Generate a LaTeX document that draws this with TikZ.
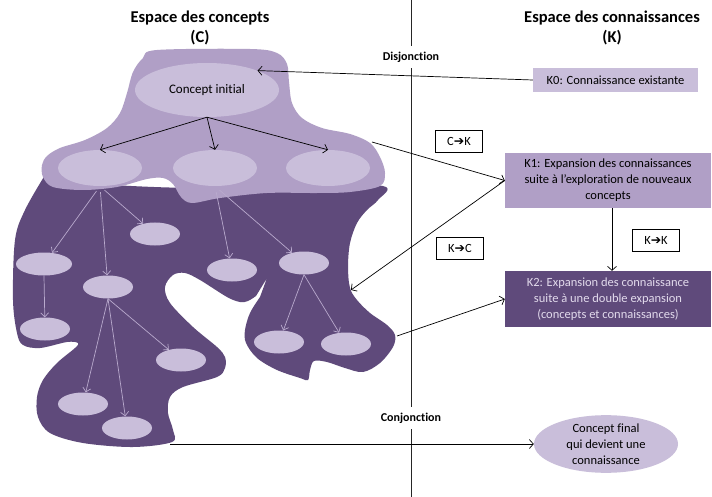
\documentclass[tikz,border=0pt]{standalone}
\usepackage{fontspec}
\setmainfont{Carlito}[Ligatures=NoCommon]
\newfontfamily\symfont{DejaVu Sans}
\usetikzlibrary{shapes.geometric,arrows.meta}
\definecolor{darkp}{HTML}{5F4A7B}
\definecolor{midp}{HTML}{B09FC6}
\definecolor{lightp}{HTML}{C9BEDA}
\definecolor{arrp}{HTML}{B9AACD}
\definecolor{ktext}{HTML}{E2DAEC}
\tikzset{
 conc/.style={ellipse, fill=lightp, inner sep=0pt, minimum width=50pt, minimum height=23pt},
 midconc/.style={ellipse, fill=lightp, inner sep=0pt, minimum width=84pt, minimum height=36pt},
 bigconc/.style={ellipse, fill=lightp, inner sep=0pt, minimum width=144pt, minimum height=54pt, align=center, font=\fontsize{13}{16}\selectfont},
 blk/.style={draw=black, line width=0.7pt, -{Straight Barb[length=4pt,width=9pt]}},
 lgt/.style={draw=arrp, line width=0.7pt, -{Straight Barb[length=4pt,width=8pt]}},
 tagbox/.style={draw=black, line width=0.8pt, fill=white, minimum width=47pt, minimum height=22pt, inner sep=0pt, font=\fontsize{12.5}{14}\selectfont},
 kbox/.style={rectangle, inner sep=0pt, align=center, font=\fontsize{12.5}{16}\selectfont},
 ttl/.style={font=\bfseries\fontsize{16.5}{20}\selectfont, align=center},
 sepl/.style={font=\bfseries\fontsize{12}{14}\selectfont, inner sep=6pt},
 vline/.style={draw=black!85, line width=0.9pt},
}
\newcommand{\harr}{{\symfont\bfseries\char"2794}}
\begin{document}
\begin{tikzpicture}[x=1pt,y=-1pt]
\useasboundingbox[fill=white] (0,0) rectangle (712,497);
% titles
\node[ttl] (tc) at (200,28) {Espace des concepts\\(C)};
\node[ttl] (tk) at (612,28) {Espace des connaissances\\(K)};
% separator
\coordinate (vtop) at (411,0);
\coordinate (vbot) at (411,497);
\node[sepl] (dis) at (411,57) {Disjonction};
\node[sepl] (conj) at (411,418) {Conjonction};
\draw[vline] (vtop) -- (dis);
\draw[vline] (dis) -- (conj);
\draw[vline] (conj) -- (vbot);
% dark blob
\fill[darkp] plot[smooth, tension=0.55] coordinates {(45,175) (100,184) (200,188) (300,184) (383,186) (378,200) (367,210) (357,223) (350,243) (348,267) (350,288) (357,300) (370,313) (387,325) (395,335) (393,347) (380,363) (363,372) (345,368) (327,362) (314,361) (310,370) (308,380) (300,378) (277,370) (257,358) (246,343) (245,330) (250,313) (260,297)}
 -- (267,278) -- plot[smooth, tension=0.55] coordinates {(256,296) (248,301) (240,302) (227,297) (200,280) (185,273) (173,275) (165,287) (170,303) (193,327) (217,347) (225,357) (225,368) (217,377) (183,387) (170,397) (168,413) (173,430) (172,442) (133,447) (83,443) (50,433) (38,417) (37,397) (43,380) (57,363) (75,348) (78,343) (67,342) (40,348) (23,345) (17,333) (13,300) (15,240) (25,210) (45,175)} -- cycle;
% light blob
\fill[midp] plot[smooth cycle, tension=0.55] coordinates {(157,50) (250,49) (277,53) (287,64) (289,82) (292,103) (302,118) (322,128) (350,134) (370,143) (380,157) (385,173) (380,186) (350,192) (317,193) (267,193) (220,198) (192,203) (181,197) (173,184) (163,178) (147,179) (117,187) (83,190) (53,187) (43,177) (42,165) (47,156) (60,148) (85,140) (107,128) (120,113) (127,93) (133,72) (143,58)};
% concepts in light blob
\node[bigconc] (ci) at (207,90) {Concept initial};
\node[midconc] (c1) at (100,168) {};
\node[midconc] (c2) at (215,168) {};
\node[midconc] (c3) at (328,168) {};
\draw[blk] (ci.south) -- (c1.north);
\draw[blk] (ci.south) -- (c2.north);
\draw[blk] (ci.south) -- (c3.north);
% concepts in dark blob
\node[conc] (d1) at (155,234) {};
\node[conc, minimum width=56pt] (d2) at (44,264) {};
\node[conc] (d3) at (108,287) {};
\node[conc] (d4) at (232,270) {};
\node[conc] (d5) at (304,263) {};
\node[conc] (d6) at (45,329) {};
\node[conc] (d7) at (181,360) {};
\node[conc] (d8) at (279,342) {};
\node[conc] (d9) at (346,344) {};
\node[conc] (d10) at (83,404) {};
\node[conc] (d11) at (127,428) {};
\draw[lgt, shorten <=6pt] (c1.south) -- (d2);
\draw[lgt, shorten <=6pt] (c1.south) -- (d3);
\draw[lgt, shorten <=6pt] (c1.south) -- (d1);
\draw[lgt, shorten <=6pt] (c2.south) -- (d4);
\draw[lgt, shorten <=6pt] (c2.south) -- (d5);
\draw[lgt] (d2.south) -- (d6);
\draw[lgt] (d3.south) -- (d10);
\draw[lgt] (d3.south) -- (d11);
\draw[lgt] (d3.south) -- (d7);
\draw[lgt] (d5.south) -- (d8);
\draw[lgt] (d5.south) -- (d9);
% knowledge boxes
\node[kbox, fill=lightp, minimum width=165pt, minimum height=24pt] (k0) at (615.5,80) {K0: Connaissance existante};
\node[kbox, fill=midp, minimum width=206pt, minimum height=55pt] (k1) at (608,180.5) {K1: Expansion des connaissances\\suite à l’exploration de nouveaux\\concepts};
\node[kbox, fill=darkp, text=ktext, minimum width=206pt, minimum height=56pt] (k2) at (608,299) {K2: Expansion des connaissance\\suite à une double expansion\\(concepts et connaissances)};
\node[bigconc, font=\fontsize{12.5}{16}\selectfont] (cf) at (606,444) {Concept final\\qui devient une\\connaissance};
% tags
\node[tagbox] (tck) at (459,141) {C\harr K};
\node[tagbox] (tkc) at (460,248) {K\harr C};
\node[tagbox] (tkk) at (656,240) {K\harr K};
% connectors
\coordinate (ckstart) at (372,142);
\coordinate (kcend) at (351,290);
\coordinate (k2start) at (397,336);
\coordinate (bbot) at (170,444);
\draw[blk] (k0.west) -- (ci.21);
\draw[blk] (ckstart) -- (k1.west);
\draw[blk] (k1.west) -- (kcend);
\draw[blk] (k2start) -- (k2.west);
\draw[blk] ([xshift=4pt]k1.south) -- ([xshift=4pt]k2.north);
\draw[blk] (bbot) -- (cf.west);
\end{tikzpicture}
\end{document}
